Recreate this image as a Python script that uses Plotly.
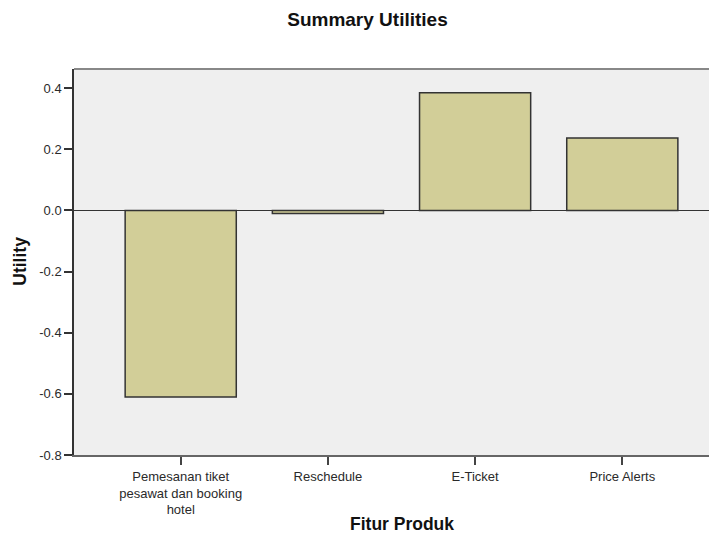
import plotly.graph_objects as go

categories = ["Pemesanan tiket<br>pesawat dan booking<br>hotel", "Reschedule", "E-Ticket", "Price Alerts"]
utilities = [-0.61, -0.01, 0.385, 0.237]
y_ticks = [-0.8, -0.6, -0.4, -0.2, 0.0, 0.2, 0.4]
y_ticklabels = ["-0.8", "-0.6", "-0.4", "-0.2", "0.0", "0.2", "0.4"]

fig = go.Figure()
fig.add_trace(go.Bar(
    x=list(range(len(categories))),
    y=utilities,
    marker=dict(color="#D2CE98", line=dict(color="#333333", width=1.5)),
    width=0.755,
    showlegend=False,
))

fig.update_layout(
    width=701, height=525,
    margin=dict(l=66, r=0, t=61, b=78),
    paper_bgcolor="white",
    plot_bgcolor="#EFEFEF",
    font=dict(family="Liberation Sans, Arial, sans-serif", size=13, color="#2A2A2A"),
    title=dict(text="<b>Summary Utilities</b>", x=0.5128, xanchor="center", y=0.978, yanchor="middle",
               font=dict(size=19, color="#111111")),
    xaxis=dict(
        range=[-0.725, 3.589],
        tickmode="array", tickvals=list(range(len(categories))), ticktext=categories,
        showgrid=False, zeroline=False,
        showline=True, linecolor="#666666", linewidth=2,
        ticks="outside", ticklen=8, tickwidth=2, tickcolor="#444444",
        mirror=False,
    ),
    yaxis=dict(
        range=[-0.8, 0.4624],
        tickmode="array", tickvals=y_ticks, ticktext=y_ticklabels,
        showgrid=False,
        zeroline=True, zerolinecolor="#333333", zerolinewidth=1,
        showline=True, linecolor="#333333", linewidth=1.5,
        ticks="outside", ticklen=8, tickwidth=1.5, tickcolor="#333333",
    ),
    annotations=[
        dict(text="<b>Fitur Produk</b>", xref="paper", yref="paper", x=0.5173, y=-0.1788,
             xanchor="center", yanchor="middle", showarrow=False,
             font=dict(size=17.5, color="#111111")),
        dict(text="<b>Utility</b>", xref="paper", yref="paper", x=-0.0855, y=0.5026,
             xanchor="center", yanchor="middle", showarrow=False, textangle=-90,
             font=dict(size=17.5, color="#111111")),
    ],
)

# top border of plot area
fig.add_shape(type="line", xref="paper", yref="paper", x0=0, x1=1, y0=1, y1=1,
              line=dict(color="#888888", width=2))

fig.write_html("out.html")
